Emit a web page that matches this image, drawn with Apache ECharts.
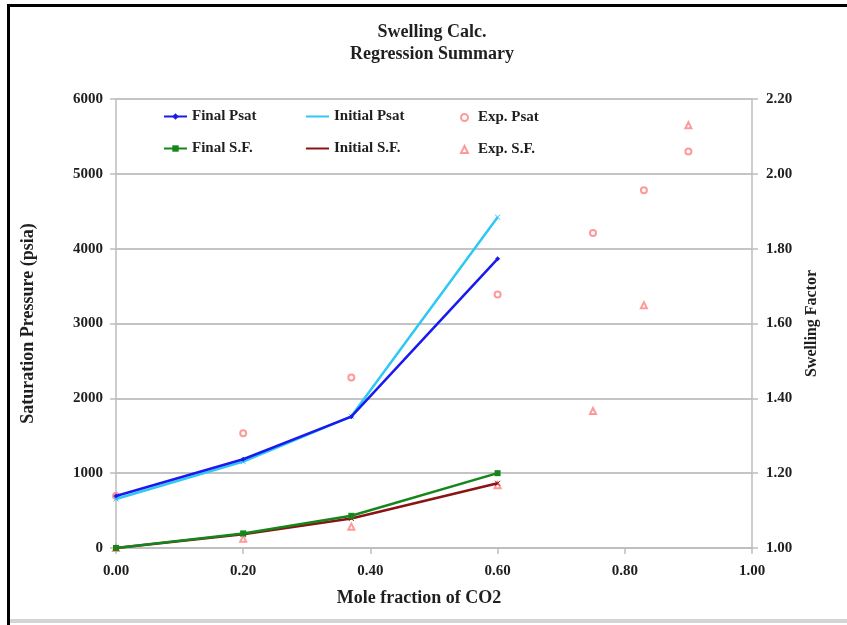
<!DOCTYPE html>
<html>
<head>
<meta charset="utf-8">
<title>Swelling Calc. Regression Summary</title>
<script src="https://cdn.jsdelivr.net/npm/echarts@6/dist/echarts.min.js"></script>
<style>
  html, body { margin: 0; padding: 0; background: #ffffff; }
  #chart { width: 847px; height: 625px; }
</style>
</head>
<body>
<div id="chart"></div>
<script>
// Regression model points (mole fraction of CO2)
const calcX = [0, 0.2, 0.37, 0.6];
const finalPsat = [695, 1186, 1755, 3864];
const initialPsat = [655, 1154, 1760, 4421];
const finalSF = [1.0, 1.039, 1.086, 1.20];
const initialSF = [1.0, 1.037, 1.079, 1.173];

// Experimental measurements
const expX = [0, 0.2, 0.37, 0.6, 0.75, 0.83, 0.9];
const expPsat = [695, 1533, 2277, 3387, 4211, 4782, 5298];
const expSF = [1.0, 1.025, 1.057, 1.168, 1.366, 1.649, 2.130];

// Axis settings
const xTicks = [0, 0.2, 0.4, 0.6, 0.8, 1.0];
const psatRange = [0, 6000, 1000];
const sfRange = [1.0, 2.2, 0.2];

const FONT = '"Liberation Serif", "Times New Roman", serif';
const TXT = '#1f1f1f';
const EXP_COLOR = '#ff7f7f';

function pairs(xs, ys) { return xs.map((x, i) => [x, ys[i]]); }

const chart = echarts.init(document.getElementById('chart'), null, { renderer: 'canvas' });

const legendText = { fontFamily: FONT, fontWeight: 'bold', fontSize: 15, color: TXT };
function lineLegend(name, left, top) {
  return {
    data: [name], left: left, top: top, itemWidth: 23, itemHeight: 8, itemGap: 0,
    padding: 0, textStyle: legendText, selectedMode: false
  };
}
function markerLegend(name, left, top) {
  return {
    data: [name], left: left, top: top + 1, itemWidth: 7, itemHeight: 7, itemGap: 0,
    padding: 0, textStyle: Object.assign({ padding: [0, 0, 0, 5] }, legendText), selectedMode: false
  };
}

chart.setOption({
  animation: false,
  backgroundColor: '#ffffff',
  title: {
    text: 'Swelling Calc.\nRegression Summary',
    left: 427, top: 16, textAlign: 'center',
    textStyle: { fontFamily: FONT, fontWeight: 'bold', fontSize: 18, lineHeight: 22, color: TXT }
  },
  legend: [
    lineLegend('Final Psat', 163, 109),
    lineLegend('Initial Psat', 305, 109),
    markerLegend('Exp. Psat', 460, 109),
    lineLegend('Final S.F.', 163, 141),
    lineLegend('Initial S.F.', 305, 141),
    markerLegend('Exp. S.F.', 460, 141)
  ],
  grid: { left: 116, right: 95, top: 99, bottom: 77, containLabel: false },
  xAxis: {
    type: 'value', min: xTicks[0], max: xTicks[xTicks.length - 1], interval: 0.2,
    name: 'Mole fraction of CO2', nameLocation: 'middle', nameGap: 41,
    nameTextStyle: { fontFamily: FONT, fontWeight: 'bold', fontSize: 18, color: TXT, padding: [0, 30, 0, 0] },
    axisLine: { lineStyle: { color: '#bdbdbd', width: 1.5 } },
    axisTick: { show: true, inside: false, length: 6, lineStyle: { color: '#bdbdbd', width: 1.5 } },
    axisLabel: { margin: 16, fontFamily: FONT, fontWeight: 'bold', fontSize: 15, color: TXT,
      formatter: v => v.toFixed(2) },
    splitLine: { show: false }
  },
  yAxis: [
    {
      type: 'value', min: psatRange[0], max: psatRange[1], interval: psatRange[2],
      name: 'Saturation Pressure (psia)', nameLocation: 'middle', nameGap: 79, nameRotate: 90,
      nameTextStyle: { fontFamily: FONT, fontWeight: 'bold', fontSize: 18, color: TXT },
      axisLine: { show: true, lineStyle: { color: '#bdbdbd', width: 1.5 } },
      axisTick: { show: true, length: 6, lineStyle: { color: '#bdbdbd', width: 1.5 } },
      axisLabel: { margin: 13, fontFamily: FONT, fontWeight: 'bold', fontSize: 15, color: TXT,
        formatter: v => String(v) },
      splitLine: { show: true, lineStyle: { color: '#c4c4c4', width: 2 } }
    },
    {
      type: 'value', min: sfRange[0], max: sfRange[1], interval: sfRange[2], position: 'right',
      name: 'Swelling Factor', nameLocation: 'middle', nameGap: 52, nameRotate: 90,
      nameTextStyle: { fontFamily: FONT, fontWeight: 'bold', fontSize: 16, color: TXT },
      axisLine: { show: true, lineStyle: { color: '#bdbdbd', width: 1.5 } },
      axisTick: { show: true, length: 6, lineStyle: { color: '#bdbdbd', width: 1.5 } },
      axisLabel: { margin: 14, fontFamily: FONT, fontWeight: 'bold', fontSize: 15, color: TXT,
        formatter: v => v.toFixed(2) },
      splitLine: { show: false }
    }
  ],
  series: [
    {
      name: 'Exp. Psat', type: 'scatter', yAxisIndex: 0, data: pairs(expX, expPsat),
      symbol: 'emptyCircle', symbolSize: 6,
      itemStyle: { color: EXP_COLOR, borderColor: EXP_COLOR, borderWidth: 1.3 }, z: 1
    },
    {
      name: 'Exp. S.F.', type: 'scatter', yAxisIndex: 1, data: pairs(expX, expSF),
      symbol: 'emptyTriangle', symbolSize: 6,
      itemStyle: { color: EXP_COLOR, borderColor: EXP_COLOR, borderWidth: 1.3 }, z: 1
    },
    {
      name: 'Final Psat', type: 'line', yAxisIndex: 0, data: pairs(calcX, finalPsat),
      symbol: 'diamond', symbolSize: 5, showSymbol: true,
      lineStyle: { color: '#1a1aee', width: 2.5 }, itemStyle: { color: '#1a1aee' }, z: 3
    },
    {
      name: 'Initial Psat', type: 'line', yAxisIndex: 0, data: pairs(calcX, initialPsat),
      symbol: 'path://M0,0L10,10M10,0L0,10', symbolSize: 5,
      lineStyle: { color: '#2ec8f5', width: 2.5 }, itemStyle: { color: '#2ec8f5', borderColor: '#2ec8f5' }, z: 2
    },
    {
      name: 'Final S.F.', type: 'line', yAxisIndex: 1, data: pairs(calcX, finalSF),
      symbol: 'rect', symbolSize: 6,
      lineStyle: { color: '#14861c', width: 2.5 }, itemStyle: { color: '#14861c' }, z: 3
    },
    {
      name: 'Initial S.F.', type: 'line', yAxisIndex: 1, data: pairs(calcX, initialSF),
      symbol: 'path://M0,0L10,10M10,0L0,10', symbolSize: 5,
      lineStyle: { color: '#8a1414', width: 2.5 }, itemStyle: { color: '#8a1414', borderColor: '#8a1414' }, z: 2
    }
  ],
  graphic: [
    // outer frame edges
    { type: 'line', shape: { x1: 8.5, y1: 5, x2: 8.5, y2: 625 }, style: { stroke: '#000000', lineWidth: 3 }, silent: true },
    { type: 'line', shape: { x1: 7, y1: 5.5, x2: 847, y2: 5.5 }, style: { stroke: '#000000', lineWidth: 3 }, silent: true },
    { type: 'line', shape: { x1: 10, y1: 621, x2: 847, y2: 621 }, style: { stroke: '#d4d4d4', lineWidth: 4 }, silent: true }
  ]
});
</script>
</body>
</html>
